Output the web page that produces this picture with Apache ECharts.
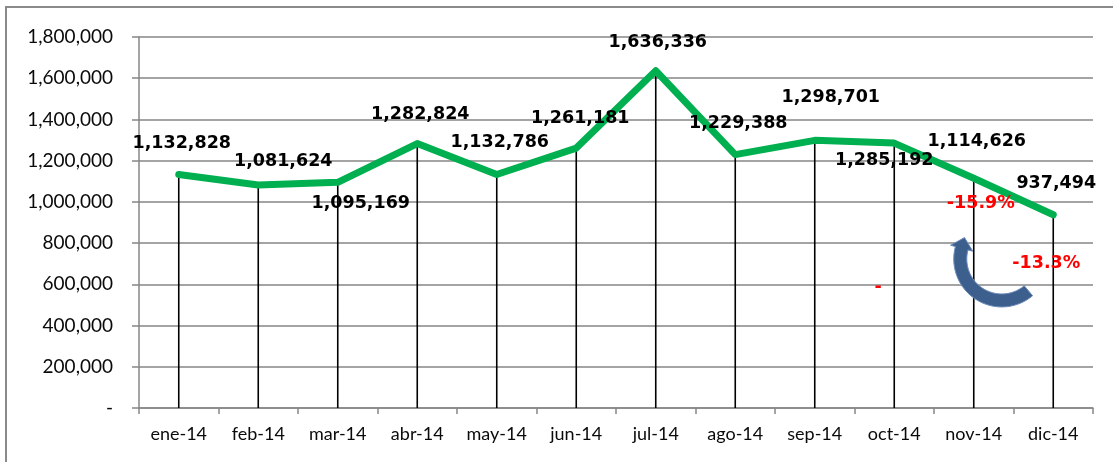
<!DOCTYPE html>
<html>
<head>
<meta charset="utf-8">
<script src="https://cdn.jsdelivr.net/npm/echarts@6/dist/echarts.min.js"></script>
<style>
  html, body { margin: 0; padding: 0; background: #fff; }
  #chart { width: 1113px; height: 462px; }
</style>
</head>
<body>
<div id="chart"></div>
<script>
// Monthly totals, 2014
const months = ['ene-14', 'feb-14', 'mar-14', 'abr-14', 'may-14', 'jun-14',
                'jul-14', 'ago-14', 'sep-14', 'oct-14', 'nov-14', 'dic-14'];
const totals = [1132828, 1081624, 1095169, 1282824, 1132786, 1261181,
                1636336, 1229388, 1298701, 1285192, 1114626, 937494];

// Y axis range
const yMin = 0;
const yMax = 1800000;
const yStep = 200000;

// Where each value label sits relative to its point (px)
const labelOffsets = [[3, -31], [25, -24], [23, 21], [3, -29], [3, -32], [4, -30],
                      [2, -28], [3, -31], [16, -43], [-10, 17], [3, -37], [3, -31]];

// Red change notes: text, anchor month, anchor value, horizontal shift (px)
const noteTexts = ['-15.9%', '-13.3%', '-'];
const noteMonths = ['nov-14', 'dic-14', 'oct-14'];
const noteValues = [990000, 703000, 587000];
const noteShifts = [7, -7, -16];

const fmt = v => v === 0 ? '-' : v.toLocaleString('en-US');

const chart = echarts.init(document.getElementById('chart'), null, { renderer: 'canvas' });

const option = {
  backgroundColor: '#fff',
  animation: false,
  grid: { left: 139, right: 20, top: 37, bottom: 54, containLabel: false, outerBoundsMode: 'none' },
  xAxis: {
    type: 'category',
    data: months,
    boundaryGap: true,
    axisLine: { show: true, lineStyle: { color: '#868686', width: 1.5 } },
    axisTick: { show: true, inside: false, length: 6, lineStyle: { color: '#868686', width: 1.5 } },
    axisLabel: { margin: 17, color: '#0a0a0a', fontFamily: 'Lato', fontSize: 18 },
    splitLine: { show: false }
  },
  yAxis: {
    type: 'value',
    min: yMin, max: yMax, interval: yStep,
    axisLine: { show: true, lineStyle: { color: '#868686', width: 1.5 } },
    axisTick: { show: true, inside: false, length: 7, lineStyle: { color: '#868686', width: 1.5 } },
    axisLabel: { margin: 26, color: '#0a0a0a', fontFamily: 'Lato', fontSize: 19, formatter: fmt },
    splitLine: { show: true, lineStyle: { color: '#868686', width: 1.5 } }
  },
  series: [
    {
      // thin drop lines from each month down to the axis
      type: 'bar',
      data: totals,
      barWidth: 1.6,
      itemStyle: { color: '#000' },
      z: 2,
      silent: true
    },
    {
      type: 'line',
      data: totals.map((v, i) => ({
        value: v,
        label: { offset: labelOffsets[i] }
      })),
      symbol: 'circle',
      symbolSize: 2,
      itemStyle: { color: '#00B050' },
      lineStyle: { color: '#00B050', width: 7, cap: 'round', join: 'round' },
      label: {
        show: true,
        position: 'inside',
        align: 'center',
        verticalAlign: 'middle',
        color: '#000',
        fontFamily: 'DejaVu Sans',
        fontWeight: 'bold',
        fontSize: 17.5,
        formatter: p => fmt(p.value)
      },
      z: 3
    }
  ]
};

chart.setOption(option);

// Annotations: frame, red change notes and the curved arrow
function annotations() {
  const els = [];
  els.push({
    type: 'rect',
    shape: { x: 6, y: 7, width: 1130, height: 480 },
    style: { fill: 'none', stroke: '#8a8a8a', lineWidth: 2 },
    silent: true, z: 0
  });

  noteTexts.forEach((t, i) => {
    const p = chart.convertToPixel({ xAxisIndex: 0, yAxisIndex: 0 }, [noteMonths[i], noteValues[i]]);
    els.push({
      type: 'text',
      x: p[0] + noteShifts[i], y: p[1],
      style: {
        text: t, fill: '#FF0000',
        font: 'bold 17.5px "DejaVu Sans"',
        align: 'center', verticalAlign: 'middle'
      },
      z: 10
    });
  });

  // curved arrow around the last two months
  const nov = chart.convertToPixel({ xAxisIndex: 0, yAxisIndex: 0 }, ['nov-14', 723000]);
  const cx = nov[0] + 28, cy = nov[1];
  const rOut = 48, rIn = 35, a0 = 50, a1 = 195;
  const rad = d => d * Math.PI / 180;
  const pt = (r, d) => [cx + r * Math.cos(rad(d)), cy + r * Math.sin(rad(d))];
  const pts = [];
  for (let d = a0; d <= a1; d += 5) pts.push(pt(rOut, d));
  // arrow head
  const rMid = (rOut + rIn) / 2;
  const base = pt(rMid, a1);
  const dir = [-Math.sin(rad(a1)), Math.cos(rad(a1))];
  pts.push(pt(rOut + 5, a1));
  pts.push([base[0] + dir[0] * 11, base[1] + dir[1] * 11]);
  pts.push(pt(rIn - 5, a1));
  for (let d = a1; d >= a0; d -= 5) pts.push(pt(rIn, d));
  els.push({
    type: 'polygon',
    shape: { points: pts },
    style: { fill: '#3D5F8E', stroke: '#6B8BB8', lineWidth: 1 },
    z: 9
  });
  return els;
}

chart.setOption({ graphic: annotations() });
</script>
</body>
</html>
